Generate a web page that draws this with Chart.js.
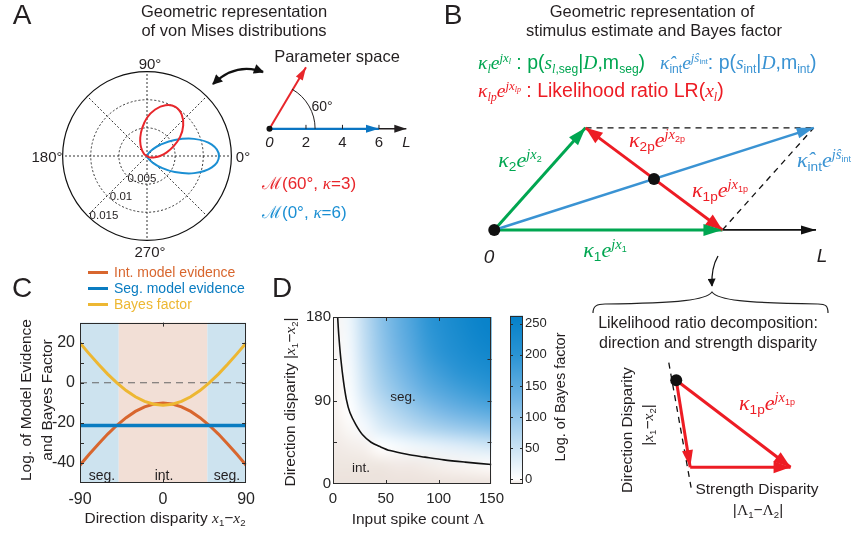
<!DOCTYPE html>
<html>
<head>
<meta charset="utf-8">
<title>Geometric representation and Bayes factor</title>
<script src="https://cdn.jsdelivr.net/npm/chart.js@4.4.1/dist/chart.umd.min.js"></script>
<style>
  body { margin: 0; background: #fff; }
  #fig { position: relative; width: 857px; height: 533px; overflow: hidden; font-family: "Liberation Sans", Arial, sans-serif; color: #231f20; }
  #fig canvas { position: absolute; }
  #fig svg { position: absolute; left: 0; top: 0; }
  .t { position: absolute; white-space: nowrap; line-height: 1; transform: translate(-50%, -50%); }
  .tl { position: absolute; white-space: nowrap; line-height: 1; transform: translate(0, -50%); }
  .r90 { transform: translate(-50%, -50%) rotate(-90deg); }
  .m { font-family: "Liberation Serif", "DejaVu Serif", serif; font-style: italic; }
  .up { font-family: "Liberation Serif", "DejaVu Serif", serif; }
  .lo { font-size: 0.62em; position: relative; top: 0.32em; font-style: normal; font-family: "Liberation Sans", Arial, sans-serif; }
  .lo.m { font-family: "Liberation Serif", serif; font-style: italic; }
  .hi { font-size: 0.66em; position: relative; top: -0.55em; }
  .big { font-size: 28px; }
  .leg { position: absolute; white-space: nowrap; line-height: 1; transform: translate(0, -50%); font-size: 14px; }
  .leg i { display: inline-block; width: 20px; height: 3px; vertical-align: middle; margin-right: 6px; position: relative; top: -1px; }
</style>
</head>
<body>
<div id="fig">
  <canvas id="polar" width="180" height="180" style="left:57px;top:66px"></canvas>
  <canvas id="param" width="160" height="96" style="left:256px;top:46px"></canvas>
  <canvas id="vecB" width="368" height="151" style="left:470px;top:111px"></canvas>
  <canvas id="chartC" width="262" height="225" style="left:0px;top:308px"></canvas>
  <canvas id="chartD" width="210" height="227" style="left:300px;top:306px"></canvas>
  <canvas id="cbar" width="60" height="227" style="left:505px;top:306px"></canvas>
  <canvas id="tri" width="170" height="160" style="left:647px;top:341px"></canvas>

  <svg width="857" height="533">
    <defs>
      <marker id="headBig" viewBox="0 0 10 10" refX="9" refY="5" markerUnits="userSpaceOnUse" markerWidth="13" markerHeight="10" orient="auto-start-reverse">
        <path d="M0,0 L10,5 L0,10 z" fill="#111"/>
      </marker>
      <marker id="headSmall" viewBox="0 0 10 10" refX="9" refY="5" markerUnits="userSpaceOnUse" markerWidth="9" markerHeight="8" orient="auto">
        <path d="M0,0 L10,5 L0,10 z" fill="#111"/>
      </marker>
    </defs>
    <path d="M213,84 Q236,62 263,72" fill="none" stroke="#111" stroke-width="2.4" marker-start="url(#headBig)" marker-end="url(#headBig)"/>
    <path d="M718,256 Q711,268 712,286" fill="none" stroke="#111" stroke-width="1.3" marker-end="url(#headSmall)"/>
    <path d="M593,313 C593,306 597,304 605,304 C680,303 706,300 712,292 C718,300 744,303 818,304 C826,304 828,306 828,313" fill="none" stroke="#222" stroke-width="1.2"/>
  </svg>

  <!-- panel letters and titles -->
  <div class="t big" style="left:22px;top:15px">A</div>
  <div class="t big" style="left:453px;top:15px">B</div>
  <div class="t big" style="left:22px;top:288px">C</div>
  <div class="t big" style="left:282px;top:288px">D</div>
  <div class="t" style="left:234px;top:11px;font-size:16.5px">Geometric representation</div>
  <div class="t" style="left:234px;top:30px;font-size:16.5px">of von Mises distributions</div>
  <div class="t" style="left:652px;top:11px;font-size:16.5px">Geometric representation of</div>
  <div class="t" style="left:654px;top:30px;font-size:16.5px">stimulus estimate and Bayes factor</div>

  <!-- A: polar labels -->
  <div class="t" style="left:150px;top:63px;font-size:15px">90°</div>
  <div class="t" style="left:243px;top:156px;font-size:15px">0°</div>
  <div class="t" style="left:47px;top:156px;font-size:15px">180°</div>
  <div class="t" style="left:150px;top:251px;font-size:15px">270°</div>
  <div class="t" style="left:142px;top:179px;font-size:11.5px">0.005</div>
  <div class="t" style="left:121px;top:197px;font-size:11.5px">0.01</div>
  <div class="t" style="left:104px;top:216px;font-size:11.5px">0.015</div>

  <!-- A: parameter space -->
  <div class="t" style="left:337px;top:56px;font-size:16.5px">Parameter space</div>
  <div class="t" style="left:322px;top:106px;font-size:14px">60°</div>
  <div class="tl" style="left:262px;top:183px;font-size:17px;color:#e8262b"><span class="up">ℳ</span>(60°, <span class="m">κ</span>=3)</div>
  <div class="tl" style="left:262px;top:212px;font-size:17px;color:#1b8fd3"><span class="up">ℳ</span>(0°, <span class="m">κ</span>=6)</div>

  <!-- B: legend -->
  <div class="tl" style="left:478px;top:63px;font-size:19.5px;color:#00a651"><span class="m">κ</span><span class="lo m">l</span><span class="m">e</span><span class="hi"><span class="m">jx</span><span class="lo m">l</span></span> : p(<span class="m">s</span><span class="lo"><span class="m">l</span>,seg</span>|<span class="m">D</span>,m<span class="lo">seg</span>)</div>
  <div class="tl" style="left:660px;top:63px;font-size:19.5px;color:#3a93d3"><span class="m">κ̂</span><span class="lo">int</span><span class="m">e</span><span class="hi"><span class="m">jŝ</span><span class="lo">int</span></span>: p(<span class="m">s</span><span class="lo">int</span>|<span class="m">D</span>,m<span class="lo">int</span>)</div>
  <div class="tl" style="left:478px;top:91px;font-size:19.5px;color:#ed1c24"><span class="m">κ</span><span class="lo m">lp</span><span class="m">e</span><span class="hi"><span class="m">jx</span><span class="lo m">lp</span></span> : Likelihood ratio LR(<span class="m">x</span><span class="lo m">l</span>)</div>

  <!-- B: vector labels -->
  <div class="t" style="left:520px;top:160px;font-size:22px;color:#00a651"><span class="m">κ</span><span class="lo">2</span><span class="m">e</span><span class="hi"><span class="m">jx</span><span class="lo">2</span></span></div>
  <div class="t" style="left:605px;top:250px;font-size:22px;color:#00a651"><span class="m">κ</span><span class="lo">1</span><span class="m">e</span><span class="hi"><span class="m">jx</span><span class="lo">1</span></span></div>
  <div class="t" style="left:657px;top:140px;font-size:22px;color:#ed1c24"><span class="m">κ</span><span class="lo">2p</span><span class="m">e</span><span class="hi"><span class="m">jx</span><span class="lo">2p</span></span></div>
  <div class="t" style="left:720px;top:190px;font-size:22px;color:#ed1c24"><span class="m">κ</span><span class="lo">1p</span><span class="m">e</span><span class="hi"><span class="m">jx</span><span class="lo">1p</span></span></div>
  <div class="tl" style="left:797px;top:160px;font-size:22px;color:#3a93d3"><span class="m">κ̂</span><span class="lo">int</span><span class="m">e</span><span class="hi"><span class="m">jŝ</span><span class="lo">int</span></span></div>
  <div class="t" style="left:489px;top:256px;font-size:19px;font-style:italic">0</div>
  <div class="t" style="left:822px;top:255px;font-size:19px;font-style:italic">L</div>

  <!-- B: decomposition -->
  <div class="t" style="left:708px;top:323px;font-size:16px">Likelihood ratio decomposition:</div>
  <div class="t" style="left:708px;top:343px;font-size:16px">direction and strength disparity</div>
  <div class="t r90" style="left:627px;top:430px;font-size:15.5px">Direction Disparity</div>
  <div class="t r90" style="left:648px;top:425px;font-size:15.5px">|<span class="m">x</span><span class="lo">1</span>−<span class="m">x</span><span class="lo">2</span>|</div>
  <div class="t" style="left:767px;top:403px;font-size:22px;color:#ed1c24"><span class="m">κ</span><span class="lo">1p</span><span class="m">e</span><span class="hi"><span class="m">jx</span><span class="lo">1p</span></span></div>
  <div class="t" style="left:757px;top:489px;font-size:15.5px">Strength Disparity</div>
  <div class="t" style="left:758px;top:510px;font-size:15.5px">|<span class="up">Λ</span><span class="lo">1</span>−<span class="up">Λ</span><span class="lo">2</span>|</div>

  <!-- C: legend and titles -->
  <div class="leg" style="left:88px;top:272px;color:#d8662e"><i style="background:#d8662e"></i>Int. model evidence</div>
  <div class="leg" style="left:88px;top:288px;color:#0a7cc1"><i style="background:#0a7cc1"></i>Seg. model evidence</div>
  <div class="leg" style="left:88px;top:304px;color:#edb732"><i style="background:#edb732"></i>Bayes factor</div>
  <div class="t r90" style="left:26px;top:400px;font-size:15.5px">Log. of Model Evidence</div>
  <div class="t r90" style="left:47px;top:400px;font-size:15.5px">and Bayes Factor</div>
  <div class="t" style="left:165px;top:518px;font-size:15.5px">Direction disparity <span class="m">x</span><span class="lo">1</span>−<span class="m">x</span><span class="lo">2</span></div>
  <div class="t" style="left:102px;top:475px;font-size:14px">seg.</div>
  <div class="t" style="left:164px;top:475px;font-size:14px">int.</div>
  <div class="t" style="left:227px;top:475px;font-size:14px">seg.</div>

  <!-- D: titles -->
  <div class="t r90" style="left:290px;top:402px;font-size:15.5px">Direction disparity |<span class="m">x</span><span class="lo">1</span>−<span class="m">x</span><span class="lo">2</span>|</div>
  <div class="t" style="left:418px;top:519px;font-size:15.5px">Input spike count <span class="up">Λ</span></div>
  <div class="t" style="left:403px;top:397px;font-size:13.5px">seg.</div>
  <div class="t" style="left:361px;top:468px;font-size:13.5px">int.</div>
  <div class="t r90" style="left:560px;top:397px;font-size:14.5px">Log. of Bayes factor</div>
</div>

<script>
// ---------- A: polar plot of the two von Mises densities ----------
const redLoopAngles = [-40, -30, -20, -10, 0, 10, 20, 30, 40, 50, 60, 70, 80, 90, 100, 110, 120, 130, 140, 150, 160];
const redLoopR = [0, 0.0005, 0.0008, 0.0014, 0.0023, 0.0035, 0.0050, 0.0068, 0.0084, 0.0096, 0.0101, 0.0096, 0.0084, 0.0068, 0.0050, 0.0035, 0.0023, 0.0014, 0.0008, 0.0005, 0];
const blueLoopAngles = [-90, -80, -70, -60, -50, -40, -30, -20, -10, 0, 10, 20, 30, 40, 50, 60, 70, 80, 90];
const blueLoopR = [0, 0.0001, 0.00025, 0.0006, 0.0015, 0.0031, 0.0057, 0.0089, 0.0117, 0.0128, 0.0117, 0.0089, 0.0057, 0.0031, 0.0015, 0.0006, 0.00025, 0.0001, 0];
const polarRings = [0.005, 0.01, 0.015];
const polarSpokes = [0, 45, 90, 135, 180, 225, 270, 315];

// ---------- A: parameter space ----------
const paramRed = [2.0, 3.5];       // kappa=3 at 60 deg, as drawn
const paramBlue = [6, 0];          // kappa=6 at 0 deg
const paramAxisEnd = 7.5;
const paramTicks = [2, 4, 6];
const paramLabelValues = [0, 2, 4, 6, 7.5];
const paramLabelText = ['0', '2', '4', '6', 'L'];
const paramArcRadius = 2.5;

// ---------- B: vector diagram ----------
const vecK1 = [5, 0];
const vecK2 = [2, 2.35];
const vecInt = [7, 2.35];
const vecMid = [3.5, 1.175];
const axisEndB = 7.05;

// ---------- B: decomposition triangle ----------
const triDot = [-0.75, 4.7];
const triCorner = [0, 0];
const triTip = [5.4, 0];
const triDash = [[-1.15, 5.65], [0.05, -1.1]];

// ---------- C: evidence vs direction disparity ----------
const dispX = [-90, -80, -70, -60, -50, -40, -30, -20, -10, 0, 10, 20, 30, 40, 50, 60, 70, 80, 90];
const intEvidence = [-41.1, -35.7, -30.5, -25.6, -21.2, -17.4, -14.3, -12.0, -10.6, -10.1, -10.6, -12.0, -14.3, -17.4, -21.2, -25.6, -30.5, -35.7, -41.1];
const segEvidence = [-21.3, -21.3, -21.3, -21.3, -21.3, -21.3, -21.3, -21.3, -21.3, -21.3, -21.3, -21.3, -21.3, -21.3, -21.3, -21.3, -21.3, -21.3, -21.3];
const bayesFactor = [19.8, 14.4, 9.2, 4.3, -0.1, -3.9, -7.0, -9.3, -10.7, -11.2, -10.7, -9.3, -7.0, -3.9, -0.1, 4.3, 9.2, 14.4, 19.8];
const regionEdges = [-90, -48, 48, 90];
const regionColors = ['#cde3ef', '#f2dfd6', '#cde3ef'];
const cXTicks = [-90, 0, 90];
const cYTicks = [-40, -30, -20, -10, 0, 10, 20];

// ---------- D: log Bayes factor map ----------
const spikeCounts = [0, 15, 30, 45, 60, 75, 90, 105, 120, 135, 150];
const disparities = [0, 20, 40, 60, 80, 100, 120, 140, 160, 180];
const logBF = [
  [-8, -8, -8, -8, -8, -8, -8, -8, -8, -8, -8],
  [-7, -7, -7, -7, -6, -6, -5, -4, -3, -2, -1],
  [-6, -5, -4, 0, 6, 12, 18, 24, 30, 36, 42],
  [-5, -2, 10, 32, 48, 62, 74, 84, 92, 99, 106],
  [-4, 0, 26, 55, 76, 94, 112, 126, 138, 148, 157],
  [-4, 4, 42, 76, 100, 122, 144, 160, 174, 185, 195],
  [-3, 7, 50, 88, 115, 140, 166, 184, 199, 211, 222],
  [-3, 10, 56, 96, 126, 154, 183, 202, 218, 231, 240],
  [-3, 12, 60, 101, 133, 162, 192, 212, 229, 243, 252],
  [-3, 15, 63, 105, 137, 167, 197, 218, 235, 249, 258]
];
const contourLambda = [4.4, 5.5, 7.4, 10, 12.7, 16, 21.6, 28, 36, 45, 54, 70, 87, 105, 125, 150];
const contourDisp = [180, 160, 135, 110, 91, 77, 64, 53, 45, 40, 36, 32, 29, 26, 23.6, 21];
const cmapStops = [-8, 0, 60, 130, 200, 263];
const cmapColors = [[236, 226, 220], [255, 255, 255], [192, 221, 242], [112, 180, 228], [42, 148, 212], [4, 128, 200]];
const dXTicks = [0, 50, 100, 150];
const dYTicks = [0, 45, 90, 135, 180];
const cbTicks = [0, 50, 100, 150, 200, 250];

// ---------- colours ----------
const GREEN = '#00a651', RED = '#ed1c24', BLUE_B = '#3a93d3';
const ORANGE = '#d8662e', BLUE_C = '#0a7cc1', YELLOW = '#edb732';

Chart.defaults.font.family = "'Liberation Sans', Arial, sans-serif";
Chart.defaults.color = '#262626';
Chart.defaults.animation = false;
Chart.defaults.responsive = false;
Chart.defaults.events = [];
Chart.defaults.plugins.legend.display = false;
Chart.defaults.plugins.tooltip.enabled = false;

// arrow heads on datasets that ask for one (last segment direction)
Chart.register({
  id: 'arrowHeads',
  afterDatasetsDraw(chart) {
    const ctx = chart.ctx;
    chart.data.datasets.forEach((ds, i) => {
      if (!ds.arrowHead) return;
      const pts = chart.getDatasetMeta(i).data;
      const p1 = pts[pts.length - 2], p2 = pts[pts.length - 1];
      const ang = Math.atan2(p2.y - p1.y, p2.x - p1.x);
      const L = ds.arrowHead[0], W = ds.arrowHead[1] / 2;
      const bx = p2.x - L * Math.cos(ang), by = p2.y - L * Math.sin(ang);
      ctx.save();
      ctx.fillStyle = ds.borderColor;
      ctx.beginPath();
      ctx.moveTo(p2.x, p2.y);
      ctx.lineTo(bx + W * Math.sin(ang), by - W * Math.cos(ang));
      ctx.lineTo(bx - W * Math.sin(ang), by + W * Math.cos(ang));
      ctx.closePath();
      ctx.fill();
      ctx.restore();
    });
  }
});

const pts = (xs, ys) => xs.map((x, i) => ({ x: x, y: ys[i] }));
function line(points, color, width, extra) {
  return Object.assign({
    data: points.map(p => ({ x: p[0], y: p[1] })),
    showLine: true, borderColor: color, backgroundColor: color,
    borderWidth: width, pointRadius: 0, fill: false, order: 2
  }, extra || {});
}
function dot(p, r) {
  return { data: [{ x: p[0], y: p[1] }], pointRadius: r, pointBackgroundColor: '#111', pointBorderWidth: 0, order: 0 };
}
function diagram(id, xr, yr, datasets, plugins) {
  return new Chart(document.getElementById(id), {
    type: 'scatter',
    data: { datasets: datasets },
    options: {
      layout: { padding: 0 },
      scales: {
        x: { type: 'linear', display: false, min: xr[0], max: xr[1] },
        y: { type: 'linear', display: false, min: yr[0], max: yr[1] }
      }
    },
    plugins: plugins || []
  });
}

// box with inward ticks, like the original plots
function frame(len) {
  return {
    id: 'frame',
    afterDatasetsDraw(chart) {
      const { ctx, chartArea: a } = chart;
      ctx.save();
      ctx.strokeStyle = '#2b2b2b';
      ctx.lineWidth = 1;
      ctx.beginPath();
      Object.values(chart.scales).forEach(s => {
        if (!s.options.display) return;
        s.ticks.forEach(t => {
          const p = Math.round(s.getPixelForValue(t.value)) + 0.5;
          if (s.isHorizontal()) {
            if (p <= a.left + 1 || p >= a.right - 1) return;
            ctx.moveTo(p, a.bottom); ctx.lineTo(p, a.bottom - len);
            ctx.moveTo(p, a.top); ctx.lineTo(p, a.top + len);
          } else {
            if (p <= a.top + 1 || p >= a.bottom - 1) return;
            ctx.moveTo(a.left, p); ctx.lineTo(a.left + len, p);
            ctx.moveTo(a.right, p); ctx.lineTo(a.right - len, p);
          }
        });
      });
      ctx.stroke();
      ctx.strokeRect(Math.round(a.left) + 0.5, Math.round(a.top) + 0.5, Math.round(a.right - a.left) - 1, Math.round(a.bottom - a.top) - 1);
      ctx.restore();
    }
  };
}

function cmap(v) {
  if (v <= cmapStops[0]) return cmapColors[0];
  for (let i = 1; i < cmapStops.length; i++) {
    if (v <= cmapStops[i]) {
      const f = (v - cmapStops[i - 1]) / (cmapStops[i] - cmapStops[i - 1]);
      return cmapColors[i].map((c, k) => Math.round(cmapColors[i - 1][k] + f * (c - cmapColors[i - 1][k])));
    }
  }
  return cmapColors[cmapColors.length - 1];
}

// ---------- A: polar ----------
const toXY = (angles, radii) => angles.map((a, i) => [radii[i] * Math.cos(a * Math.PI / 180), radii[i] * Math.sin(a * Math.PI / 180)]);
diagram('polar', [-0.016, 0.016], [-0.016, 0.016], [
  line(toXY(redLoopAngles, redLoopR), '#e8262b', 2, { tension: 0.4, order: 1 }),
  line(toXY(blueLoopAngles, blueLoopR), '#1b8fd3', 2, { tension: 0.4, order: 1 })
], [{
  id: 'polarGrid',
  beforeDatasetsDraw(chart) {
    const { ctx, scales: { x, y } } = chart;
    const cx = x.getPixelForValue(0), cy = y.getPixelForValue(0);
    const rad = r => x.getPixelForValue(r) - cx;
    const outer = rad(polarRings[polarRings.length - 1]);
    ctx.save();
    ctx.strokeStyle = '#333';
    ctx.lineWidth = 1;
    ctx.setLineDash([2, 2]);
    polarSpokes.forEach(a => {
      const t = a * Math.PI / 180;
      ctx.beginPath();
      ctx.moveTo(cx, cy);
      ctx.lineTo(cx + outer * Math.cos(t), cy - outer * Math.sin(t));
      ctx.stroke();
    });
    polarRings.slice(0, -1).forEach(r => {
      ctx.beginPath(); ctx.arc(cx, cy, rad(r), 0, 2 * Math.PI); ctx.stroke();
    });
    ctx.setLineDash([]);
    ctx.strokeStyle = '#111';
    ctx.lineWidth = 1.2;
    ctx.beginPath(); ctx.arc(cx, cy, outer, 0, 2 * Math.PI); ctx.stroke();
    ctx.restore();
  }
}]);

// ---------- A: parameter space ----------
const paramChart = diagram('param', [-0.52, 7.81], [-0.52, 4.48], [
  dot([0, 0], 3),
  line([[0, 0], paramBlue], '#0a75c2', 2.2, { arrowHead: [13, 8], order: 1 }),
  line([[0, 0], paramRed], '#e8262b', 2, { arrowHead: [13, 8], order: 1 }),
  line([[0, 0], [paramAxisEnd, 0]], '#231f20', 1.5, { arrowHead: [12, 8] })
], [{
  id: 'paramDecor',
  afterDatasetsDraw(chart) {
    const { ctx, scales: { x, y } } = chart;
    const ox = x.getPixelForValue(0), oy = y.getPixelForValue(0);
    const r = x.getPixelForValue(paramArcRadius) - ox;
    const redAng = Math.atan2(paramRed[1], paramRed[0]);
    ctx.save();
    ctx.strokeStyle = '#231f20';
    ctx.lineWidth = 1;
    ctx.beginPath(); ctx.arc(ox, oy, r, -redAng, 0); ctx.stroke();
    ctx.beginPath();
    paramTicks.forEach(v => { const p = x.getPixelForValue(v); ctx.moveTo(p, oy); ctx.lineTo(p, oy - 4); });
    ctx.stroke();
    ctx.restore();
  }
}]);
(function () {
  const cv = document.getElementById('param');
  const fig = document.getElementById('fig');
  paramLabelValues.forEach((v, i) => {
    const d = document.createElement('div');
    d.className = 't';
    d.textContent = paramLabelText[i];
    d.style.left = (cv.offsetLeft + paramChart.scales.x.getPixelForValue(v)) + 'px';
    d.style.top = (cv.offsetTop + paramChart.scales.y.getPixelForValue(0) + 12) + 'px';
    d.style.fontSize = '15px';
    if (i === 0 || i === paramLabelText.length - 1) d.style.fontStyle = 'italic';
    fig.appendChild(d);
  });
})();

// ---------- B: vector diagram ----------
diagram('vecB', [-0.4, 7.4], [-0.6, 2.6], [
  dot([0, 0], 6),
  dot(vecMid, 6),
  line([vecMid, vecK2], RED, 3, { arrowHead: [17, 13], order: 1 }),
  line([vecMid, vecK1], RED, 3, { arrowHead: [17, 13], order: 1 }),
  line([[0, 0], vecInt], BLUE_B, 2.5, { arrowHead: [17, 11], order: 2 }),
  line([[0, 0], vecK2], GREEN, 3, { arrowHead: [18, 12], order: 2 }),
  line([[0, 0], vecK1], GREEN, 3, { arrowHead: [19, 12], order: 2 }),
  line([vecK1, [axisEndB, 0]], '#111', 1.8, { arrowHead: [15, 9], order: 3 }),
  line([vecK2, vecInt], '#111', 1.3, { borderDash: [6, 5], order: 3 }),
  line([vecK1, vecInt], '#111', 1.3, { borderDash: [6, 5], order: 3 })
]);

// ---------- B: decomposition triangle ----------
diagram('tri', [-2, 6.5], [-1.5, 6.5], [
  dot(triDot, 6),
  line([triDot, triCorner], RED, 3, { arrowHead: [17, 11], order: 1 }),
  line([triCorner, triTip], RED, 3, { arrowHead: [17, 12], order: 1 }),
  line([triDot, triTip], RED, 3, { arrowHead: [17, 12], order: 1 }),
  line(triDash, '#111', 1.3, { borderDash: [6, 5], order: 3 })
]);

// ---------- C ----------
new Chart(document.getElementById('chartC'), {
  type: 'scatter',
  data: {
    datasets: [
      { data: pts(dispX, bayesFactor), showLine: true, borderColor: YELLOW, borderWidth: 3, pointRadius: 0, order: 0 },
      { data: pts(dispX, segEvidence), showLine: true, borderColor: BLUE_C, borderWidth: 3.5, pointRadius: 0, order: 1 },
      { data: pts(dispX, intEvidence), showLine: true, borderColor: ORANGE, borderWidth: 3, pointRadius: 0, order: 2 },
      { data: [{ x: -90, y: 0 }, { x: 90, y: 0 }], showLine: true, borderColor: '#666', borderWidth: 1, borderDash: [7, 5], pointRadius: 0, order: 3 }
    ]
  },
  options: {
    layout: { padding: { top: 9, right: 12, left: 0, bottom: 0 } },
    scales: {
      x: {
        type: 'linear', min: -90, max: 90,
        afterBuildTicks: s => { s.ticks = cXTicks.map(v => ({ value: v })); },
        afterFit: s => { s.height = 50; },
        ticks: { font: { size: 16 }, padding: 7, maxRotation: 0, autoSkip: false },
        grid: { display: false, drawTicks: false }, border: { display: false }
      },
      y: {
        type: 'linear', min: -50, max: 30,
        afterBuildTicks: s => { s.ticks = cYTicks.map(v => ({ value: v })); },
        afterFit: s => { s.width = 80; },
        ticks: { font: { size: 16 }, padding: 5, autoSkip: false, callback: v => (v % 20 === 0 ? v : '') },
        grid: { display: false, drawTicks: false }, border: { display: false }
      }
    }
  },
  plugins: [{
    id: 'regions',
    beforeDatasetsDraw(chart) {
      const { ctx, chartArea: a, scales: { x } } = chart;
      ctx.save();
      regionColors.forEach((c, i) => {
        const x0 = x.getPixelForValue(regionEdges[i]), x1 = x.getPixelForValue(regionEdges[i + 1]);
        ctx.fillStyle = c;
        ctx.fillRect(x0, a.top, x1 - x0, a.bottom - a.top);
      });
      ctx.restore();
    }
  }, frame(4)]
});

// ---------- D ----------
new Chart(document.getElementById('chartD'), {
  type: 'scatter',
  data: {
    datasets: [
      { data: pts(contourLambda, contourDisp), showLine: true, borderColor: '#111', borderWidth: 1.6, pointRadius: 0, tension: 0.3 }
    ]
  },
  options: {
    layout: { padding: { top: 9, right: 6, left: 0, bottom: 0 } },
    scales: {
      x: {
        type: 'linear', min: 0, max: 150,
        afterBuildTicks: s => { s.ticks = dXTicks.map(v => ({ value: v })); },
        afterFit: s => { s.height = 49; },
        ticks: { font: { size: 15 }, padding: 6, maxRotation: 0, autoSkip: false },
        grid: { display: false, drawTicks: false }, border: { display: false }
      },
      y: {
        type: 'linear', min: 0, max: 180,
        afterBuildTicks: s => { s.ticks = dYTicks.map(v => ({ value: v })); },
        afterFit: s => { s.width = 33; },
        ticks: { font: { size: 15 }, padding: 2, autoSkip: false, callback: v => (v % 90 === 0 ? v : '') },
        grid: { display: false, drawTicks: false }, border: { display: false }
      }
    }
  },
  plugins: [{
    id: 'heatmap',
    beforeDatasetsDraw(chart) {
      const { ctx, chartArea: a, scales: { x, y } } = chart;
      const nx = spikeCounts.length, ny = disparities.length;
      const off = document.createElement('canvas');
      off.width = nx; off.height = ny;
      const octx = off.getContext('2d');
      const img = octx.createImageData(nx, ny);
      for (let r = 0; r < ny; r++) {
        const row = logBF[ny - 1 - r];
        for (let c = 0; c < nx; c++) {
          const col = cmap(row[c]);
          const k = (r * nx + c) * 4;
          img.data[k] = col[0]; img.data[k + 1] = col[1]; img.data[k + 2] = col[2]; img.data[k + 3] = 255;
        }
      }
      octx.putImageData(img, 0, 0);
      const dx = spikeCounts[1] - spikeCounts[0], dy = disparities[1] - disparities[0];
      const x0 = x.getPixelForValue(spikeCounts[0] - dx / 2), x1 = x.getPixelForValue(spikeCounts[nx - 1] + dx / 2);
      const yt = y.getPixelForValue(disparities[ny - 1] + dy / 2), yb = y.getPixelForValue(disparities[0] - dy / 2);
      ctx.save();
      ctx.beginPath(); ctx.rect(a.left, a.top, a.right - a.left, a.bottom - a.top); ctx.clip();
      ctx.imageSmoothingEnabled = true;
      ctx.imageSmoothingQuality = 'high';
      ctx.drawImage(off, x0, yt, x1 - x0, yb - yt);
      ctx.restore();
    }
  }, frame(4)]
});

// colour bar
new Chart(document.getElementById('cbar'), {
  type: 'scatter',
  data: { datasets: [] },
  options: {
    layout: { padding: { top: 9, right: 0, left: 5, bottom: 49 } },
    scales: {
      x: { type: 'linear', display: false, min: 0, max: 1 },
      y: {
        type: 'linear', position: 'right', min: -8, max: 263,
        afterBuildTicks: s => { s.ticks = cbTicks.map(v => ({ value: v })); },
        afterFit: s => { s.width = 42; },
        ticks: { font: { size: 13 }, padding: 2, autoSkip: false },
        grid: { display: false, drawTicks: false }, border: { display: false }
      }
    }
  },
  plugins: [{
    id: 'cbarFill',
    beforeDatasetsDraw(chart) {
      const { ctx, chartArea: a, scales: { y } } = chart;
      const lo = cmapStops[0], hi = cmapStops[cmapStops.length - 1];
      const g = ctx.createLinearGradient(0, y.getPixelForValue(lo), 0, y.getPixelForValue(hi));
      cmapStops.forEach((v, i) => g.addColorStop((v - lo) / (hi - lo), 'rgb(' + cmapColors[i].join(',') + ')'));
      ctx.save();
      ctx.fillStyle = g;
      ctx.fillRect(a.left, a.top, a.right - a.left, a.bottom - a.top);
      ctx.restore();
    }
  }, frame(3)]
});
</script>
</body>
</html>
